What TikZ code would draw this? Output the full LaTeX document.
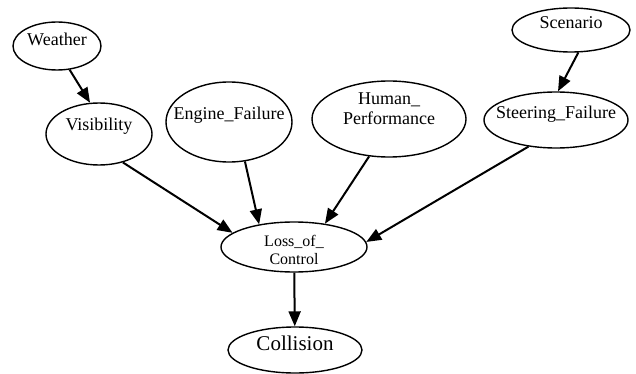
\documentclass[tikz,border=0pt]{standalone}
\usepackage{fontspec}
\setmainfont{Liberation Serif}
\usetikzlibrary{arrows.meta,shapes.geometric}
\newcommand{\vartext}[2][0pt]{\makebox[0pt]{\raisebox{#1}[0pt][0pt]{#2}}}

\begin{document}
\begin{tikzpicture}[
		x=1pt, y=-1pt,
		var/.style={draw, ellipse, line width=1.4pt, inner sep=0pt, font=\fontsize{18}{20}\selectfont},
		link/.style={-{Triangle[length=15pt, width=12pt]}, line width=2pt},
	]
		\useasboundingbox (0,0) rectangle (636,374);

		\node (weather) [var, minimum width=88pt, minimum height=48pt] at (57,46) {\vartext{Weather}};
		\node (visibility) [var, minimum width=106pt, minimum height=62pt] at (99,134) {\vartext[3pt]{Visibility}};
		\node (engine failure) [var, minimum width=126pt, minimum height=80pt] at (229,122) {\vartext[2pt]{Engine\_Failure}};
		\node (human performance) [var, minimum width=154pt, minimum height=76pt] at (389,119) {\vartext[4pt]{\begin{tabular}{@{}c@{}}Human\_\\Performance\end{tabular}}};
		\node (scenario) [var, minimum width=118pt, minimum height=44pt] at (571,30) {\vartext[1pt]{Scenario}};
		\node (steering failure) [var, minimum width=144pt, minimum height=56pt] at (556,120) {\vartext[1pt]{Steering\_Failure}};
		\node (loss of control) [var, minimum width=146pt, minimum height=50pt, font=\fontsize{16}{18}\selectfont] at (294,247) {\vartext[-9pt]{\begin{tabular}{@{}c@{}}Loss\_of\_\\Control\end{tabular}}};
		\node (collision) [var, minimum width=134pt, minimum height=46pt, font=\fontsize{21}{24}\selectfont] at (295,350) {\vartext{Collision}};

		\draw[link] (weather.-62) -- (visibility.106);
		\draw[link] (scenario.-72) -- (steering failure.86);
		\draw[link] (visibility.-50) -- (loss of control.167);
		\draw[link] (engine failure.-68) -- (loss of control.147);
		\draw[link] (human performance.-118) -- (loss of control.37);
		\draw[link] (steering failure.224) -- (loss of control.4);
		\draw[link] (loss of control) -- (collision);
	\end{tikzpicture}
\end{document}
